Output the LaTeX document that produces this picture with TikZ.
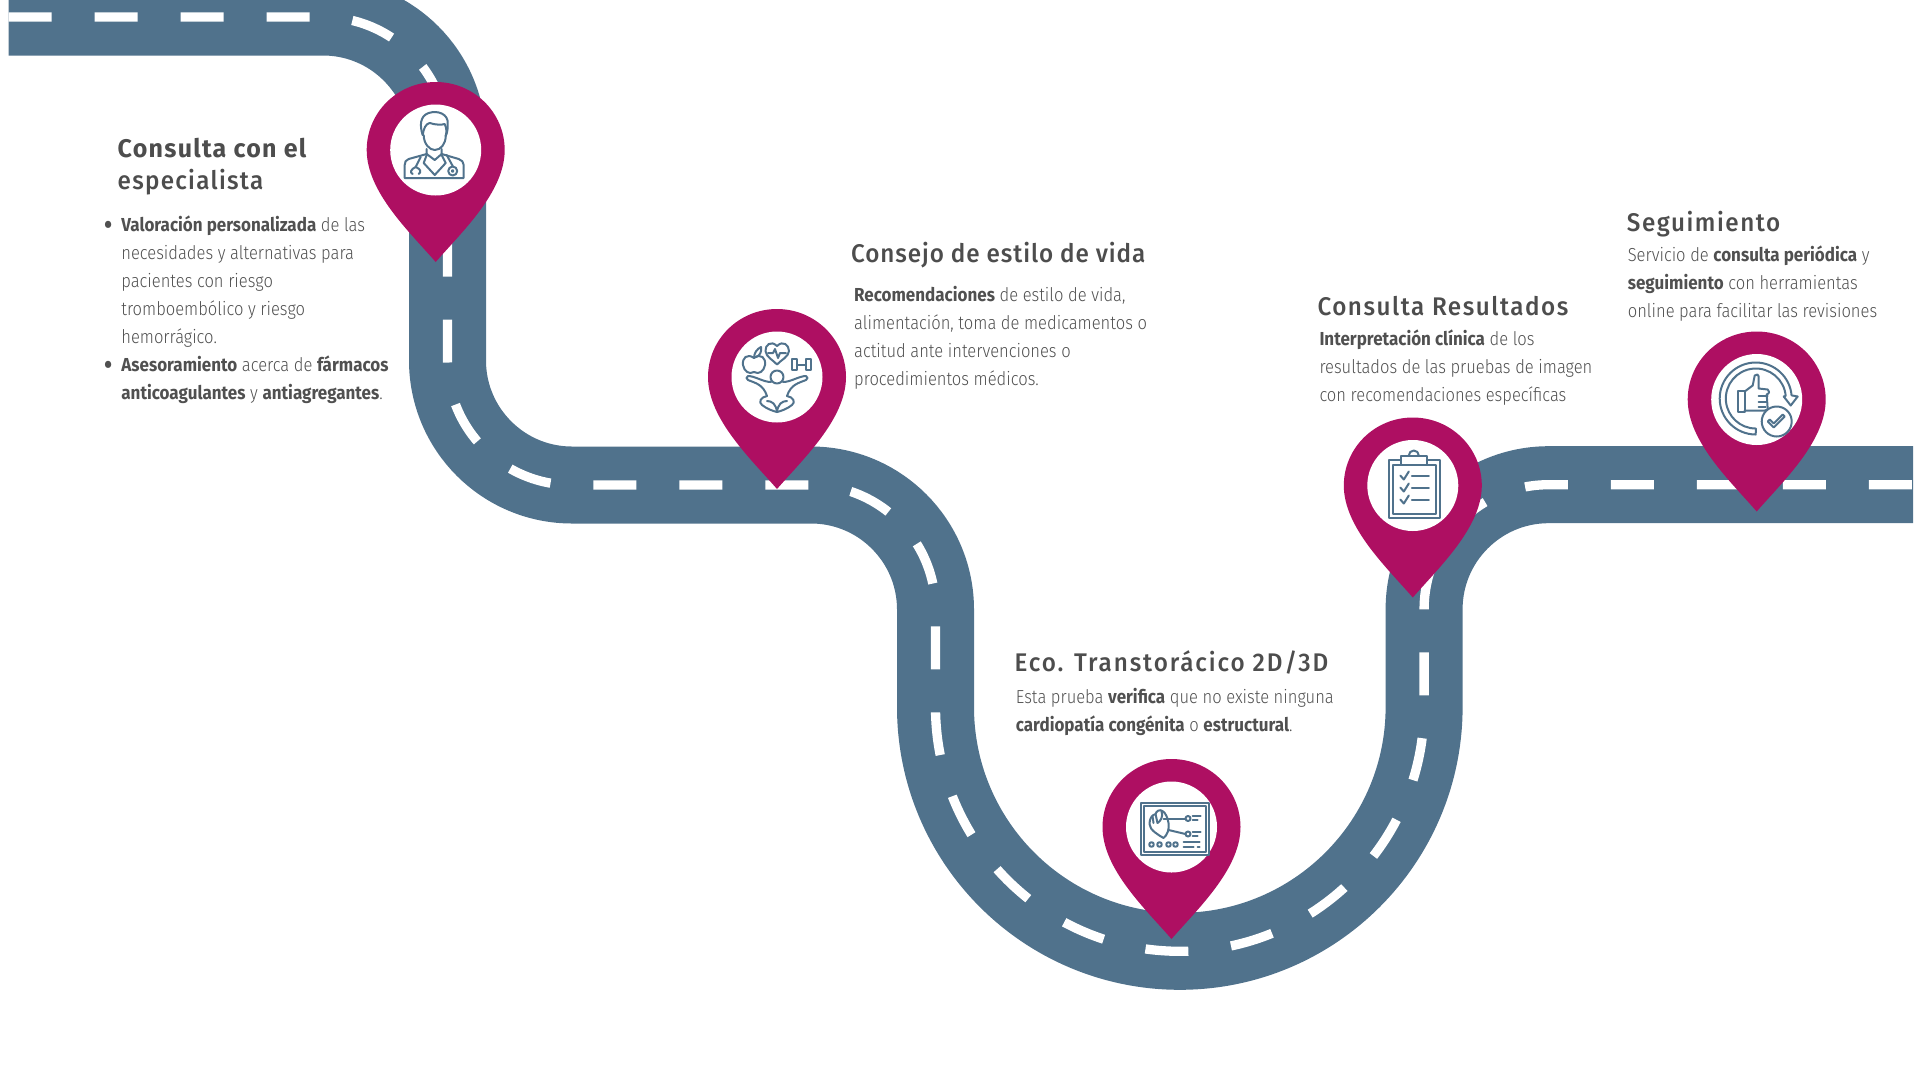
\documentclass[tikz,border=0pt]{standalone}
\usepackage{fontspec}
\setmainfont[FakeStretch=0.88,BoldFont={Fira Sans Bold},BoldFeatures={FakeStretch=0.905}]{Fira Sans Light}
\newfontfamily\headfont[FakeStretch=0.95,LetterSpace=5,BoldFont={Fira Sans Bold},BoldFeatures={FakeStretch=0.98}]{Fira Sans Medium}
\definecolor{roadblue}{HTML}{50728C}
\definecolor{pinred}{HTML}{AE0F62}
\definecolor{headgray}{HTML}{4D4D4D}
\definecolor{bodygray}{HTML}{505050}
\newcommand{\kbullet}{\llap{{\fontsize{48}{28}\selectfont\raisebox{-10pt}{\textbullet}}\hspace{7pt}}}
\newcommand{\kspace}[1]{\addfontfeature{LetterSpace=#1}}
\tikzset{
  roadband/.style={draw=roadblue,line width=77pt},
  roadline/.style={draw=white,line width=9.3pt,dash pattern=on 43pt off 43pt},
  pinbody/.style={fill=pinred,draw=none},
  pinhole/.style={circle,fill=white,draw=none,inner sep=0pt,minimum size=91pt},
  iconline/.style={draw=roadblue,line width=2pt,line join=round,line cap=round},
  headtext/.style={anchor=base west,align=left,inner sep=0pt,text=headgray,font=\headfont\fontsize{25.5}{32}\selectfont},
  bodytext/.style={anchor=base west,align=left,inner sep=0pt,text=bodygray,font=\fontsize{18.8}{28}\selectfont}
}
\begin{document}
\begin{tikzpicture}[x=1pt,y=1pt]
\clip(0,0)rectangle(1920,-1080);
\def\kroad{(8.6,-17)--(323,-17)arc[start angle=90,end angle=0,radius=124.5]--(447.5,-360.5)arc[start angle=180,end angle=270,radius=124.5]--(811,-485)arc[start angle=90,end angle=0,radius=124.5]--(935.5,-707)arc[start angle=180,end angle=360,radius=244.3]--(1424.1,-609.2)arc[start angle=180,end angle=90,radius=124.5]--(1913,-484.7)}
\draw[roadband]\kroad;
\draw[roadline]\kroad;
\foreach \kn/\kx/\ky in {doctor/435.7/150,lifestyle/777/377,echo/1171.5/827,report/1412.8/485.5,followup/1756.7/399.5}{
\fill[pinbody,shift={(\kx,-\ky)}](-69,0)arc[start angle=180,end angle=0,x radius=69,y radius=68].. controls (69,-42) and (26,-82) ..(0,-112).. controls (-26,-82) and (-69,-42) ..(-69,0)--cycle;
\node[pinhole](\kn)at(\kx,-\ky){};
}
\begin{scope}[shift={(doctor.center)}]
\draw[iconline](-13,15).. controls (-16,24) and (-16,34) ..(-7,37).. controls (2,40) and (13,36) ..(12,26).. controls (12,22) and (12,18) ..(10,14);
\draw[iconline](-13,15).. controls (-12,22) and (-10,26) ..(-6,27).. controls (0,25) and (6,25) ..(9,26).. controls (11,22) and (11,18) ..(10,14);
\draw[iconline](-12,15).. controls (-12,6) and (-6,0) ..(-1,0).. controls (5,0) and (10,6) ..(10,14);
\draw[iconline](-9,1)--(-9,-5)--(-12,-13)--(-1,-25)--(10,-13)--(6,-5)--(6,1);
\draw[iconline](-9,-4)--(-1,-10)--(6,-4);
\draw[iconline](-9,-4)--(-27,-9).. controls (-30,-10) and (-31,-12) ..(-31,-15)--(-31,-28)--(28,-28)--(28,-15).. controls (28,-12) and (26,-10) ..(23,-9)--(6,-4);
\draw[iconline](-15,-7)--(-20,-17).. controls (-25,-19) and (-26,-23) ..(-23,-24);
\draw[iconline](-20,-17).. controls (-15,-19) and (-14,-22) ..(-17,-24);
\draw[iconline](11,-5)--(17,-16);
\draw[iconline](17,-21)circle[radius=4.5];
\draw[iconline](17,-21)circle[radius=0.8];
\end{scope}
\begin{scope}[shift={(lifestyle.center)}]
\draw[iconline](-23,19).. controls (-30,24) and (-35,19) ..(-34,12).. controls (-33,6) and (-28,2) ..(-23,5).. controls (-18,2) and (-13,6) ..(-12,12).. controls (-11,19) and (-16,24) ..(-23,19);
\draw[iconline](-23,19).. controls (-23,24) and (-20,28) ..(-16,30).. controls (-15,26) and (-17,21) ..(-21,20);
\draw[iconline](0,31).. controls (-6,37) and (-12,32) ..(-11.5,26).. controls (-11,20) and (-4,17) ..(0,12.5).. controls (4,17) and (11.5,20) ..(12,26).. controls (12,32) and (6,37) ..(0,31);
\draw[iconline](-9,24)--(-4,24)--(-2,28)--(1,19)--(3,24)--(9,24);
\draw[iconline](14.5,18)rectangle(20,7);
\draw[iconline](28.5,18)rectangle(34,7);
\draw[iconline](20,12.5)--(28.5,12.5);
\draw[iconline](0,0)circle[radius=6.5];
\draw[iconline](-6,-5).. controls (-14,-5) and (-22,1) ..(-29,1).. controls (-31,0) and (-31,-2) ..(-29,-3).. controls (-22,-6) and (-14,-7) ..(-10,-19);
\draw[iconline](6,-5).. controls (14,-5) and (22,1) ..(29,1).. controls (31,0) and (31,-2) ..(29,-3).. controls (22,-6) and (14,-7) ..(10,-19);
\draw[iconline](-10,-19).. controls (-16,-20) and (-19,-25) ..(-15,-28).. controls (-10,-32) and (-4,-34) ..(0,-35).. controls (4,-34) and (10,-32) ..(15,-28).. controls (19,-25) and (16,-20) ..(10,-19);
\draw[iconline](-10,-24).. controls (-5,-24) and (-1,-27) ..(0,-35).. controls (1,-27) and (5,-24) ..(10,-24);
\end{scope}
\begin{scope}[shift={(echo.center)}]
\draw[iconline](-31,24)rectangle(37,-28);
\draw[iconline](-28,21)rectangle(34,-25);
\draw[iconline](-22,3).. controls (-22,-3) and (-13,-8) ..(-8,-11).. controls (-4,-8) and (-2,-2) ..(-3,4).. controls (-4,10) and (-6,14) ..(-9,16).. controls (-12,18) and (-15,16) ..(-16,13).. controls (-20,12) and (-22,8) ..(-22,3);
\draw[iconline](-16,13)--(-14,4);
\draw[iconline](-19,11)--(-18,4);
\draw[iconline](-10,16).. controls (-8,10) and (-11,6) ..(-14,4);
\draw[iconline](-8,8)--(14,8);
\draw[iconline](-3,-3)--(14,-7);
\draw[iconline](16.5,8.5)circle[radius=2.5];
\draw[iconline](16.5,-7)circle[radius=2.5];
\draw[iconline](21,11)--(29,11);
\draw[iconline](21,7)--(26,7);
\draw[iconline](21,-5)--(29,-5);
\draw[iconline](21,-9)--(26,-9);
\foreach \kx in {-20,-12,-3,4}{\draw[iconline](\kx,-17.5)circle[radius=2.3];}
\draw[iconline](12,-15)--(28,-15);
\draw[iconline](12,-20)--(22,-20);
\draw[iconline](26,-20)--(28,-20);
\end{scope}
\begin{scope}[shift={(report.center)}]
\draw[iconline](-12,26)--(-24,26)--(-24,-32)--(27,-32)--(27,26)--(14,26);
\draw[iconline](-12,21)--(-20,21)--(-20,-28)--(23,-28)--(23,21)--(14,21);
\draw[iconline](-12,21)rectangle(14,30);
\draw[iconline](-4,30)arc[start angle=180,end angle=0,radius=5];
\foreach \ky in {10,-2,-14}{
\draw[iconline](-12.5,\ky)--(-9,\ky-4)--(-4,\ky+4);
\draw[iconline](-1,\ky)--(16,\ky);
}
\end{scope}
\begin{scope}[shift={(followup.center)}]
\draw[iconline](-1,-35)arc[start angle=270,end angle=5,radius=36]--(41,3)--(34,-6)--(27,3)--(29,3.6)arc[start angle=5,end angle=270,radius=30]--cycle;
\draw[iconline](-19,9)rectangle(-12,-12);
\draw[iconline](-12,8)--(-4,14)--(-2,24).. controls (0,26) and (2,25) ..(2,23)--(2,11)--(11,10).. controls (13,9) and (13,6) ..(10,5)--(11,-10).. controls (10,-11) and (9,-11) ..(8,-11)--(-12,-11);
\draw[iconline](2,4)--(11,4);
\draw[iconline](2,-2)--(10,-2);
\draw[iconline](2,-7)--(9,-7);
\draw[iconline,fill=white](20,-22)circle[radius=15];
\draw[iconline](11,-22)--(13,-20)--(17,-24)--(26,-15)--(28,-17)--(17,-28)--cycle;
\end{scope}
\node[headtext](doctorhead)at(117.5,-189){\bfseries Consulta con el\\especialista};
\node[bodytext](doctorbody)at(121.2,-399.7){\kbullet\textbf{Valoración personalizada} de las\\necesidades y alternativas para\\pacientes con riesgo\\tromboembólico y riesgo\\hemorrágico.\\\kbullet\textbf{Asesoramiento} acerca de \textbf{fármacos}\\\textbf{anticoagulantes} y \textbf{antiagregantes}.};
\node[headtext](lifestylehead)at(851,-262.7){\kspace{3.6}Consejo de estilo de vida};
\node[bodytext](lifestylebody)at(854,-385){\textbf{Recomendaciones} de estilo de vida,\\alimentación, toma de medicamentos o\\actitud ante intervenciones o\\procedimientos médicos.};
\node[headtext](echohead)at(1014.5,-671){\kspace{7.4}Eco. Transtorácico 2D/3D};
\node[bodytext](echobody)at(1015.7,-731.3){Esta prueba \textbf{verifica} que no existe ninguna\\\textbf{cardiopatía congénita} o \textbf{estructural}.};
\node[headtext](reporthead)at(1317.3,-315.7){\kspace{6}Consulta Resultados};
\node[bodytext](reportbody)at(1319.3,-401.7){\textbf{Interpretación clínica} de los\\resultados de las pruebas de imagen\\con recomendaciones específicas};
\node[headtext](followuphead)at(1626.7,-231){\kspace{6}Seguimiento};
\node[bodytext](followupbody)at(1627.6,-317.7){Servicio de \textbf{consulta periódica} y\\\textbf{seguimiento} con herramientas\\online para facilitar las revisiones};
\end{tikzpicture}
\end{document}
